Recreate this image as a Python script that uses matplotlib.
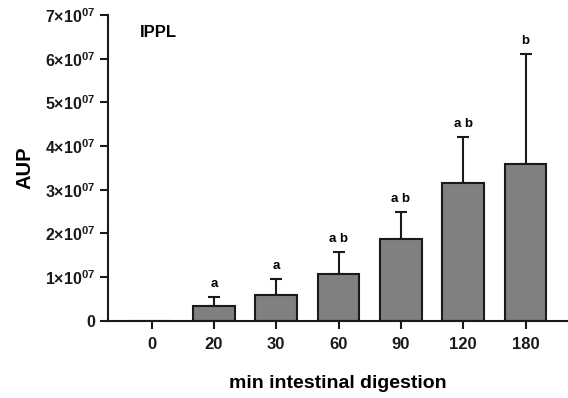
import numpy as np
import matplotlib.pyplot as plt

plt.rcParams['font.family'] = ['Liberation Sans', 'DejaVu Sans']
plt.rcParams['font.weight'] = 'bold'
plt.rcParams['mathtext.fontset'] = 'custom'
plt.rcParams['mathtext.rm'] = 'Liberation Sans:bold'
plt.rcParams['mathtext.bf'] = 'Liberation Sans:bold'

categories = ['0', '20', '30', '60', '90', '120', '180']
means = [0, 0.35e7, 0.59e7, 1.07e7, 1.87e7, 3.15e7, 3.60e7]
errors = [0, 0.20e7, 0.37e7, 0.50e7, 0.62e7, 1.06e7, 2.52e7]
letters = ['', 'a', 'a', 'a b', 'a b', 'a b', 'b']
yticks = [0, 1e7, 2e7, 3e7, 4e7, 5e7, 6e7, 7e7]
ytick_labels = ['0'] + [r'$\mathbf{%d{\times}10^{07}}$' % k for k in range(1, 8)]

fig = plt.figure(figsize=(5.68, 3.98), dpi=100)
ax = fig.add_axes([0.190, 0.194, 0.810, 0.768])

x = np.arange(len(categories))
ax.bar(x, means, width=0.67, color='#808080', edgecolor='#1a1a1a', linewidth=1.5, zorder=2)
ax.errorbar(x[1:], means[1:], yerr=[np.zeros(len(x) - 1), errors[1:]], fmt='none',
            ecolor='#1a1a1a', elinewidth=1.5, capsize=4, capthick=1.5, zorder=1)

for xi, m, e, lab in zip(x, means, errors, letters):
    if lab:
        ax.annotate(lab, (xi, m + e), xytext=(0, 5), textcoords='offset points',
                    ha='center', va='bottom', fontsize=9.5, fontweight='bold')

ax.set_xlim(-0.70, 6.68)
ax.set_ylim(0, 7e7)
ax.set_xticks(x)
ax.set_xticklabels(categories, fontsize=12, fontweight='bold')
ax.set_yticks(yticks)
ax.set_yticklabels(ytick_labels, fontsize=11.5)

for s in ['top', 'right']:
    ax.spines[s].set_visible(False)
for s in ['left', 'bottom']:
    ax.spines[s].set_linewidth(1.5)
    ax.spines[s].set_color('#1a1a1a')
ax.tick_params(axis='both', direction='out', length=6, width=1.5, colors='#1a1a1a')
ax.tick_params(axis='x', pad=6)
ax.tick_params(axis='y', pad=3)

ax.set_xlabel('min intestinal digestion', fontsize=14, fontweight='bold', labelpad=16)
ax.set_ylabel('AUP', fontsize=14.5, fontweight='bold', labelpad=8)
ax.text(0.07, 0.93, 'IPPL', transform=ax.transAxes, fontsize=12, fontweight='bold')

fig.savefig('out.png', dpi=100)
